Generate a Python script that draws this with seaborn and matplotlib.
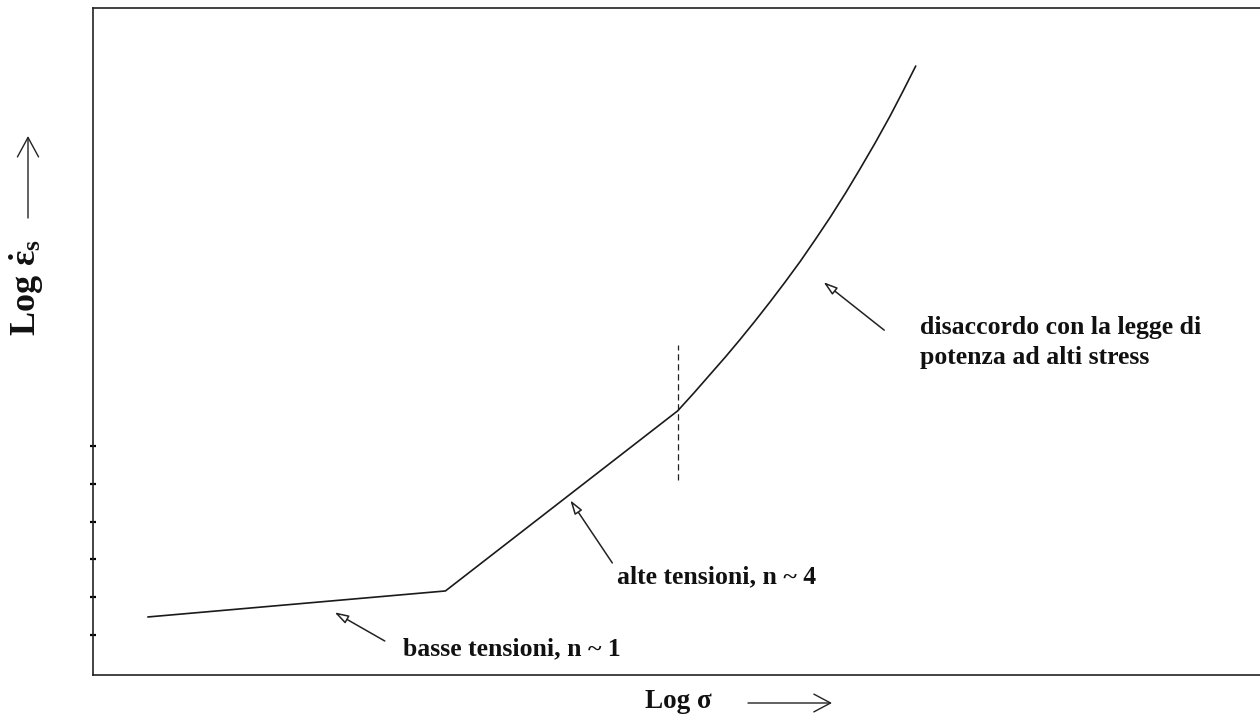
import matplotlib
matplotlib.use("Agg")
import matplotlib.pyplot as plt
import seaborn as sns
import pandas as pd

# Data (arbitrary log units)
log_sigma = [0.47, 3.02, 5.01, 5.15, 5.29, 5.42, 5.54, 5.67, 5.80, 5.93, 6.06, 6.19,
             6.32, 6.45, 6.57, 6.70, 6.83, 6.94, 7.05]
log_rate = [0.87, 1.26, 3.96, 4.23, 4.51, 4.77, 5.02, 5.30, 5.59, 5.89, 6.20, 6.53,
            6.87, 7.23, 7.58, 7.97, 8.38, 8.75, 9.13]
transition_x = 5.01
transition_y = [2.92, 4.95]
ytick_vals = [0.60, 1.17, 1.74, 2.29, 2.86, 3.43]

labels = {
    "low": "basse tensioni, n ~ 1",
    "high": "alte tensioni, n ~ 4",
    "dev": "disaccordo con la legge di\npotenza ad alti stress",
    "x": "Log σ",
    "y": r"$\mathrm{Log}\ \dot{\mathrm{ε}}_{\mathrm{s}}$",
}

sns.set_theme(style="white")
plt.rcParams["font.family"] = ["Liberation Serif", "DejaVu Serif"]
plt.rcParams["font.weight"] = "bold"
plt.rcParams["mathtext.fontset"] = "custom"
plt.rcParams["mathtext.rm"] = "Liberation Serif:bold"
plt.rcParams["mathtext.it"] = "Liberation Serif:bold"
plt.rcParams["mathtext.bf"] = "Liberation Serif:bold"

fig = plt.figure(figsize=(12.6, 7.25), dpi=100)
ax = fig.add_axes([93 / 1260, 1 - 675 / 725, 1 - 93 / 1260 + 0.01, (675 - 8) / 725])

df = pd.DataFrame({"x": log_sigma, "y": log_rate})
sns.lineplot(data=df, x="x", y="y", ax=ax, color="#1a1a1a", lw=1.2, sort=False)
ax.plot([transition_x, transition_x], transition_y, color="#222222", lw=0.9,
        dashes=(5, 3))

ax.set_xlim(0, 10.0 * (1167 + 12.6) / 1167)
ax.set_ylim(0, 10)
ax.set_xlabel("")
ax.set_ylabel("")
ax.set_xticks([])
ax.set_yticks(ytick_vals)
ax.set_yticklabels([])
ax.tick_params(axis="y", direction="inout", length=4, width=1.6, color="black", left=True)
for s in ["left", "bottom", "top"]:
    ax.spines[s].set_color("#222222")
    ax.spines[s].set_linewidth(1.2)
ax.spines["right"].set_visible(False)

fs = 18.5
txt_color = "#111111"
arrow_kw = dict(arrowstyle="-|>,head_length=0.7,head_width=0.22", fc="white",
                ec="#222222", lw=1.1, shrinkA=0, shrinkB=0)

ax.annotate("", xy=(2.07, 0.94), xytext=(2.50, 0.51), arrowprops=arrow_kw)
ax.text(2.66, 0.40, labels["low"], fontsize=fs, fontweight="bold", va="center", ha="left",
        color=txt_color)

ax.annotate("", xy=(4.09, 2.62), xytext=(4.45, 1.68), arrowprops=arrow_kw)
ax.text(4.49, 1.47, labels["high"], fontsize=fs, fontweight="bold", va="center", ha="left",
        color=txt_color)

ax.annotate("", xy=(6.26, 5.89), xytext=(6.78, 5.17), arrowprops=arrow_kw)
ax.text(7.09, 4.99, labels["dev"], fontsize=fs, fontweight="bold", va="center", ha="left",
        linespacing=1.38, color=txt_color)

# Axis labels with arrows (figure coordinates)
fig.text(678 / 1260, 1 - 702 / 725, labels["x"], fontsize=19.5, fontweight="bold",
         ha="center", va="center", color=txt_color)
fig.add_artist(matplotlib.patches.FancyArrowPatch(
    (748 / 1260, 1 - 703 / 725), (832 / 1260, 1 - 703 / 725),
    transform=fig.transFigure, arrowstyle="->,head_length=0.6,head_width=0.32",
    mutation_scale=20, color="#222222", lw=1.0, shrinkA=0, shrinkB=0))

fig.text(27 / 1260, 1 - 287 / 725, labels["y"], fontsize=26, rotation=90,
         ha="center", va="center", color=txt_color)
fig.add_artist(matplotlib.patches.FancyArrowPatch(
    (28 / 1260, 1 - 218 / 725), (28 / 1260, 1 - 136 / 725),
    transform=fig.transFigure, arrowstyle="->,head_length=0.7,head_width=0.38",
    mutation_scale=20, color="#222222", lw=1.0, shrinkA=0, shrinkB=0))

fig.savefig("out.png", dpi=100)
